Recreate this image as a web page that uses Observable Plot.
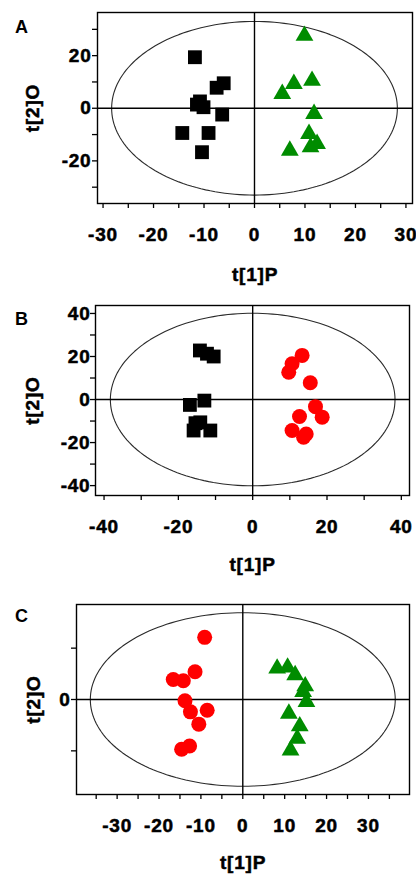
<!DOCTYPE html>
<html><head><meta charset="utf-8">
<script src="https://cdn.jsdelivr.net/npm/d3@7"></script>
<script src="https://cdn.jsdelivr.net/npm/@observablehq/plot@0.6"></script>
<style>
body{margin:0;background:#fff;}
#chart{width:416px;position:relative;}
.panel{position:relative;width:416px;}
.panel svg{display:block;}
.panel svg text{stroke:#000;stroke-width:0.5px;letter-spacing:0.8px;}
.tag{position:absolute;left:15px;font:bold 18px "Liberation Sans",Arial,sans-serif;color:#000;line-height:1;}
</style></head><body><div id="chart"></div>
<script>
// ---- Panel A: black squares vs green triangles ----
const aSquareX = [-11.8, -6.1, -7.5, -11.4, -10.8, -10.1, -6.4, -14.3, -9.1, -10.4];
const aSquareY = [19.4, 9.5, 7.8, 1.4, 2.6, 0.4, -2.4, -9.4, -9.4, -16.7];
const aTriX = [9.9, 7.8, 5.5, 11.4, 11.8, 10.8, 12.4, 11.1, 7.0];
const aTriY = [27.6, 9.3, 5.5, 10.5, -2.1, -9.7, -13.5, -14.8, -16.1];
const aEllipse = [28.3, 33.0];            // Hotelling T2 ellipse semi-axes (t1, t2)
const aXTicks = [-30,-25,-20,-15,-10,-5,0,5,10,15,20,25,30];
const aXLabels = [-30,-20,-10,0,10,20,30];
const aYTicks = [-30,-20,-10,0,10,20,30];
const aYLabels = [-20,0,20];

// ---- Panel B: black squares vs red circles ----
const bSquareX = [-14.2, -12.3, -10.5, -16.9, -13.0, -14.1, -15.4, -11.4, -15.9];
const bSquareY = [22.8, 21.3, 20.0, -2.5, -0.5, -10.6, -11.0, -14.4, -14.4];
const bCircleX = [13.3, 10.6, 9.7, 15.5, 16.9, 18.7, 12.6, 10.6, 14.4, 13.7];
const bCircleY = [20.5, 16.6, 12.7, 7.8, -3.3, -8.2, -7.9, -14.4, -16.0, -17.5];
const bEllipse = [38.3, 40.1];
const bXTicks = [-40,-30,-20,-10,0,10,20,30,40];
const bXLabels = [-40,-20,0,20,40];
const bYTicks = [-40,-30,-20,-10,0,10,20,30,40];
const bYLabels = [-40,-20,0,20,40];

// ---- Panel C: red circles vs green triangles ----
const cCircleX = [-9.1, -11.4, -16.6, -14.2, -13.8, -12.5, -8.5, -10.5, -12.7, -14.6];
const cCircleY = [24.2, 10.8, 7.8, 7.3, -0.5, -4.8, -4.2, -9.6, -18.1, -19.4];
const cTriX = [8.2, 10.7, 12.5, 14.9, 14.4, 15.2, 11.0, 13.6, 13.0, 11.4];
const cTriY = [12.1, 12.5, 9.5, 5.2, 3.0, -0.9, -5.5, -10.4, -15.2, -19.8];
const cEllipse = [36.4, 33.8];
const cXTicks = [-35,-30,-25,-20,-15,-10,-5,0,5,10,15,20,25,30,35];
const cXLabels = [-30,-20,-10,0,10,20,30];
const cYTicks = [-20,0,20];
const cYLabels = [0];

const GREEN = "#008c00", RED = "#ff0000", BLACK = "#000000";

function pts(xs, ys){ return xs.map((x,i)=>({x, y: ys[i]})); }
function ellipsePts([rx, ry]){
  const n = 180, out = [];
  for (let i = 0; i < n; i++){ const t = 2*Math.PI*i/n; out.push({x: rx*Math.cos(t), y: ry*Math.sin(t)}); }
  return out;
}

function panel(cfg){
  const fmt = labels => d => labels.includes(d) ? String(d) : "";
  return Plot.plot({
    width: 416, height: cfg.height,
    marginLeft: cfg.ml, marginRight: cfg.mr, marginTop: cfg.mt, marginBottom: cfg.mb,
    style: {fontFamily: "'Liberation Sans', Arial, sans-serif", fontSize: "19px", fontWeight: "bold", color: "#000", background: "#fff"},
    x: {domain: cfg.xDomain},
    y: {domain: cfg.yDomain},
    marks: [
      Plot.line(ellipsePts(cfg.ellipse), {x: "x", y: "y", curve: "linear-closed", stroke: "#2a2a2a", strokeWidth: 1.1}),
      Plot.ruleX([0], {stroke: "#000", strokeWidth: 1.4}),
      Plot.ruleY([0], {stroke: "#000", strokeWidth: 1.4}),
      ...cfg.groups.map(g => Plot.dot(g.data, {x: "x", y: "y", symbol: g.symbol, r: g.r, fill: g.color, stroke: "none"})),
      Plot.frame({stroke: "#000", strokeWidth: 1.4}),
      Plot.axisX({ticks: cfg.xTicks, tickFormat: fmt(cfg.xLabels), tickSize: 5, tickPadding: 19, strokeWidth: 1.3,
        label: "t[1]P", labelAnchor: "center", labelArrow: "none", labelOffset: cfg.xLabelOffset}),
      Plot.axisY({ticks: cfg.yTicks, tickFormat: fmt(cfg.yLabels), tickSize: 5, tickPadding: cfg.yPad, strokeWidth: 1.3,
        label: "t[2]O", labelAnchor: "center", labelArrow: "none", labelOffset: cfg.yLabelOffset})
    ]
  });
}

const panels = [
  {tag: "A", tagTop: 18, height: 290, ml: 97, mr: 4, mt: 12, mb: 87,
   xDomain: [-31.1, 31.3], yDomain: [-36.2, 36.4], ellipse: aEllipse,
   xTicks: aXTicks, xLabels: aXLabels, yTicks: aYTicks, yLabels: aYLabels, yPad: 1,
   xLabelOffset: 77, yLabelOffset: 72,
   groups: [
     {data: pts(aSquareX, aSquareY), symbol: "square", r: 7.8, color: BLACK},
     {data: pts(aTriX, aTriY), symbol: "triangle", r: 6.6, color: GREEN}
   ]},
  {tag: "B", tagTop: 20, height: 290, ml: 95, mr: 7, mt: 15, mb: 85,
   xDomain: [-42.3, 42.2], yDomain: [-44.6, 43.7], ellipse: bEllipse,
   xTicks: bXTicks, xLabels: bXLabels, yTicks: bYTicks, yLabels: bYLabels, yPad: 0,
   xLabelOffset: 75, yLabelOffset: 70,
   groups: [
     {data: pts(bSquareX, bSquareY), symbol: "square", r: 7.8, color: BLACK},
     {data: pts(bCircleX, bCircleY), symbol: "circle", r: 7.5, color: RED}
   ]},
  {tag: "C", tagTop: 27, height: 298, ml: 76, mr: 7, mt: 24, mb: 84,
   xDomain: [-39.7, 39.8], yDomain: [-37, 37], ellipse: cEllipse,
   xTicks: cXTicks, xLabels: cXLabels, yTicks: cYTicks, yLabels: cYLabels, yPad: 1,
   xLabelOffset: 74, yLabelOffset: 50,
   groups: [
     {data: pts(cCircleX, cCircleY), symbol: "circle", r: 7.5, color: RED},
     {data: pts(cTriX, cTriY), symbol: "triangle", r: 6.6, color: GREEN}
   ]}
];

const root = document.getElementById("chart");
for (const p of panels){
  const div = document.createElement("div");
  div.className = "panel";
  div.appendChild(panel(p));
  const t = document.createElement("div");
  t.className = "tag"; t.textContent = p.tag; t.style.top = p.tagTop + "px";
  div.appendChild(t);
  root.appendChild(div);
}
</script></body></html>
